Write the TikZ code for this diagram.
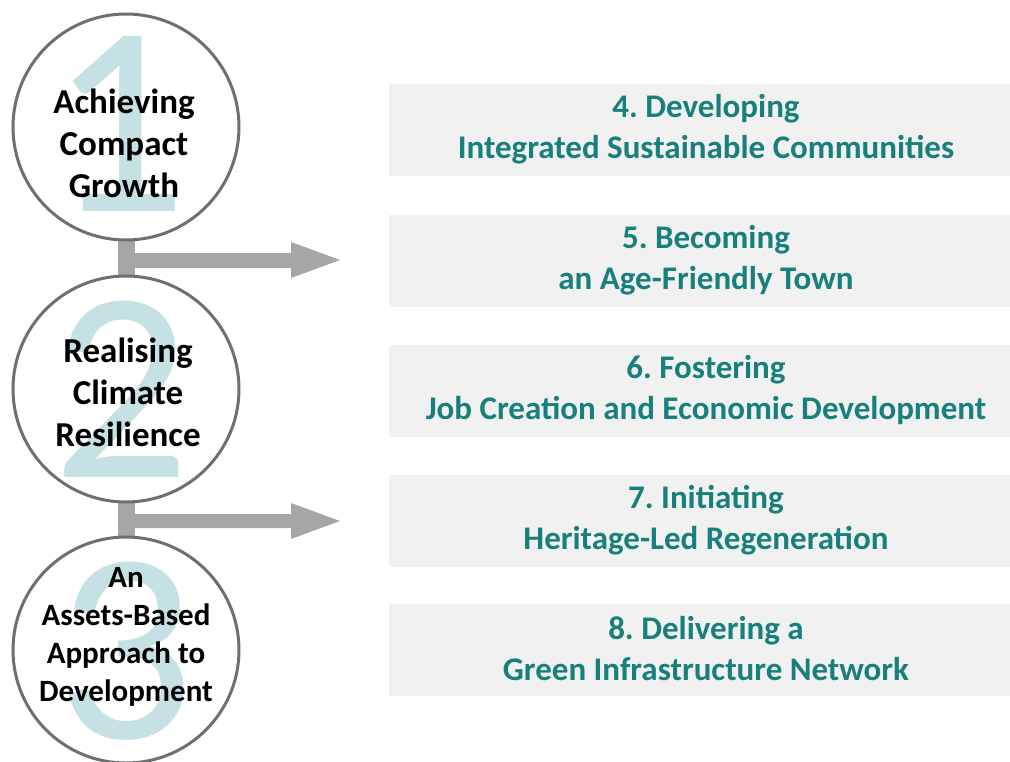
\documentclass[tikz,border=0pt]{standalone}
\usepackage{fontspec}
\setmainfont{Carlito}
\frenchspacing
\definecolor{teal1}{HTML}{17807C}
\definecolor{numcol}{HTML}{C6E1E3}
\definecolor{boxfill}{HTML}{F1F1F1}
\definecolor{ringcol}{HTML}{6F6F6F}
\definecolor{arrowcol}{HTML}{A6A6A7}
\begin{document}
\begin{tikzpicture}[x=1pt,y=-1pt,
  circ/.style={circle,draw=ringcol,line width=3pt,fill=white,minimum size=226pt,inner sep=0pt},
  bignum/.style={text=numcol,font=\fontsize{272}{272}\selectfont,inner sep=0pt},
  ctext/.style={align=center,font=\bfseries\fontsize{35}{42}\selectfont,inner sep=0pt},
  ctextsmall/.style={align=center,font=\bfseries\fontsize{31}{38}\selectfont,inner sep=0pt},
  goalbox/.style={fill=boxfill,minimum width=621pt,minimum height=92pt,inner sep=0pt,anchor=west},
  btext/.style={align=center,text=teal1,font=\bfseries\fontsize{33}{41}\selectfont,inner sep=0pt},
  arrowfill/.style={fill=arrowcol}]
\useasboundingbox (0,0) rectangle (1010,761);
% goal boxes
\node[goalbox] (b4) at (389,130) {};
\node[goalbox] (b5) at (389,261) {};
\node[goalbox] (b6) at (389,391) {};
\node[goalbox] (b7) at (389,521) {};
\node[goalbox] (b8) at (389,650) {};
\node[btext] (t4) at (706,129) {4. Developing\\Integrated Sustainable Communities};
\node[btext] (t5) at (706,260) {5. Becoming\\an Age-Friendly Town};
\node[btext] (t6) at (706,390) {6. Fostering\\Job Creation and Economic Development};
\node[btext] (t7) at (706,520) {7. Initiating\\Heritage-Led Regeneration};
\node[btext] (t8) at (706,649) {8. Delivering a\\Green Infrastructure Network};
% connectors (behind circles)
\coordinate (tip1) at (340,260);
\coordinate (tip2) at (340,521);
\fill[arrowfill] (118,230) rectangle (135,286);
\fill[arrowfill] (118,253) -- (291,253) -- (291,242) -- (tip1) -- (291,278) -- (291,268) -- (118,268) -- cycle;
\fill[arrowfill] (118,492) rectangle (135,548);
\fill[arrowfill] (118,514) -- (291,514) -- (291,503) -- (tip2) -- (291,539) -- (291,528) -- (118,528) -- cycle;
% circles
\node[circ] (c1) at (126,127) {};
\node[circ] (c2) at (126,389) {};
\node[circ] (c3) at (126,650) {};
\node[bignum] (n1) at (118,124) {1};
\node[bignum] (n2) at (121,389) {2};
\node[bignum] (n3) at (125,651) {3};
\node[ctext] (l1) at (124,143) {Achieving\\Compact\\Growth};
\node[ctext] (l2) at (128,392) {Realising\\Climate\\Resilience};
\node[ctextsmall] (l3) at (126,637) {An\\Assets-Based\\Approach to\\Development};
\end{tikzpicture}
\end{document}
